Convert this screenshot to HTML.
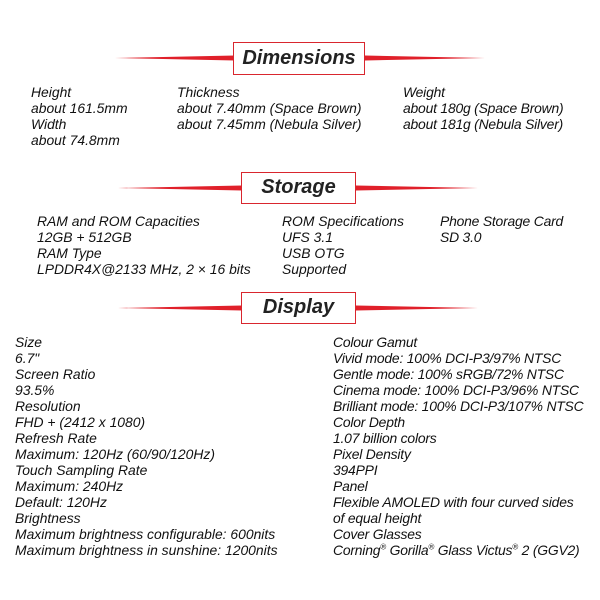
<!DOCTYPE html>
<html><head><style>
body{margin:0;width:600px;height:600px;background:#fff;position:relative;overflow:hidden;font-family:"Liberation Sans",sans-serif;}
.t{position:absolute;font-style:italic;font-size:13.9px;line-height:16px;color:#111;white-space:nowrap;}
.t sup{font-size:8px;line-height:0;}
.box{position:absolute;border:1.5px solid #d9262e;background:#fff;font-style:italic;font-weight:bold;font-size:20px;color:#222;text-align:center;box-sizing:border-box;}
svg{position:absolute;left:0;top:0}
</style></head><body>
<svg width="600" height="600">
<polygon points="115,58 235,55.5 235,60.5" fill="#e0202a"/>
<polygon points="485,58 365,55.5 365,60.5" fill="#e0202a"/>
<polygon points="118,188 242,185.5 242,190.5" fill="#e0202a"/>
<polygon points="478,188 356,185.5 356,190.5" fill="#e0202a"/>
<polygon points="118,308 242,305.5 242,310.5" fill="#e0202a"/>
<polygon points="478,308 356,305.5 356,310.5" fill="#e0202a"/>
</svg>
<div class="box" style="left:233px;top:42px;width:132px;height:33px;line-height:30px">Dimensions</div>
<div class="box" style="left:241px;top:172px;width:115px;height:32px;line-height:29px">Storage</div>
<div class="box" style="left:241px;top:292px;width:115px;height:32px;line-height:29px">Display</div>

<div class="t" style="left:31px;top:84px">Height<br>about 161.5mm<br>Width<br>about 74.8mm</div>
<div class="t" style="left:177px;top:84px">Thickness<br>about 7.40mm (Space Brown)<br>about 7.45mm (Nebula Silver)</div>
<div class="t" style="left:403px;top:84px;letter-spacing:-0.2px">Weight<br>about 180g (Space Brown)<br>about 181g (Nebula Silver)</div>

<div class="t" style="left:37px;top:213px">RAM and ROM Capacities<br>12GB + 512GB<br>RAM Type<br>LPDDR4X@2133 MHz, 2 × 16 bits</div>
<div class="t" style="left:282px;top:213px">ROM Specifications<br>UFS 3.1<br>USB OTG<br>Supported</div>
<div class="t" style="left:440px;top:213px;letter-spacing:-0.2px">Phone Storage Card<br>SD 3.0</div>

<div class="t" style="left:15px;top:334px">Size<br>6.7"<br>Screen Ratio<br>93.5%<br>Resolution<br>FHD + (2412 x 1080)<br>Refresh Rate<br>Maximum: 120Hz (60/90/120Hz)<br>Touch Sampling Rate<br>Maximum: 240Hz<br>Default: 120Hz<br>Brightness<br>Maximum brightness configurable: 600nits<br>Maximum brightness in sunshine: 1200nits</div>
<div class="t" style="left:333px;top:334px;letter-spacing:-0.2px">Colour Gamut<br>Vivid mode: 100% DCI-P3/97% NTSC<br>Gentle mode: 100% sRGB/72% NTSC<br>Cinema mode: 100% DCI-P3/96% NTSC<br>Brilliant mode: 100% DCI-P3/107% NTSC<br>Color Depth<br>1.07 billion colors<br>Pixel Density<br>394PPI<br>Panel<br>Flexible AMOLED with four curved sides<br>of equal height<br>Cover Glasses<br>Corning<sup>®</sup> Gorilla<sup>®</sup> Glass Victus<sup>®</sup> 2 (GGV2)</div>
</body></html>
